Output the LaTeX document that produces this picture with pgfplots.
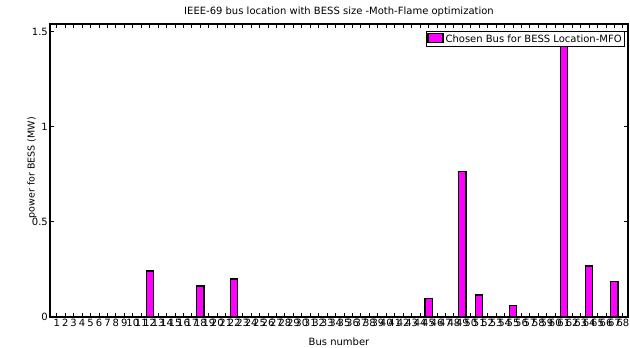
\documentclass[border=0pt]{standalone}
\usepackage{pgfplots}
\pgfplotsset{compat=1.18}
\usepackage{fontspec}
\setmainfont{DejaVu Sans}
\definecolor{barmagenta}{RGB}{255,0,255}

% BESS power at each chosen bus (MW); all other buses carry none
\pgfplotstableread{
bus  power
12   0.242
18   0.163
22   0.200
45   0.097
49   0.765
51   0.116
55   0.060
61   1.470
64   0.268
67   0.186
}\bessdata

\begin{document}
\begin{tikzpicture}
\useasboundingbox (0,0) rectangle (630pt,348pt);
\begin{axis}[
  at={(50pt,31pt)}, anchor=south west,
  scale only axis, width=578pt, height=293pt,
  xmin=0.2, xmax=68.6, ymin=0, ymax=1.542,
  xtick={1,...,68},
  ytick={0,0.5,1,1.5},
  tick align=inside,
  major tick length=4pt,
  every tick/.style={black, line width=1pt},
  axis line style={black, line width=1.3pt},
  /pgf/number format/assume math mode=true,
  font=\fontsize{10pt}{12pt}\selectfont,
  tick label style={font=\fontsize{10pt}{12pt}\selectfont},
  xticklabel style={inner sep=1pt, yshift=-1pt},
  yticklabel style={inner sep=2pt},
  title={IEEE-69 bus location with BESS size -Moth-Flame optimization},
  every axis title/.style={at={(axis description cs:0.5,1.041)}, anchor=center,
    font=\fontsize{10pt}{12pt}\selectfont},
  xlabel={Bus number},
  xlabel style={at={(axis description cs:0.5,-0.085)}, anchor=center},
  ylabel={power for BESS (MW)},
  every axis y label/.style={at={(axis description cs:-0.031,0.51)}, rotate=90, anchor=center,
    font=\fontsize{9.5pt}{11pt}\selectfont},
  legend style={at={(axis description cs:0.995,0.976)}, anchor=north east,
    draw=black, line width=1pt, inner sep=1pt,
    font=\fontsize{10pt}{12pt}\selectfont, fill=white},
  legend cell align=left,
  legend image code/.code={\draw[#1] (0pt,-3.5pt) rectangle (15pt,5.5pt);},
]
\addplot[ybar, bar width=0.85, fill=barmagenta, draw=black, line width=1.2pt]
  table[x=bus, y=power] {\bessdata};
\addlegendentry{Chosen Bus for BESS Location-MFO}
\end{axis}
\end{tikzpicture}
\end{document}
